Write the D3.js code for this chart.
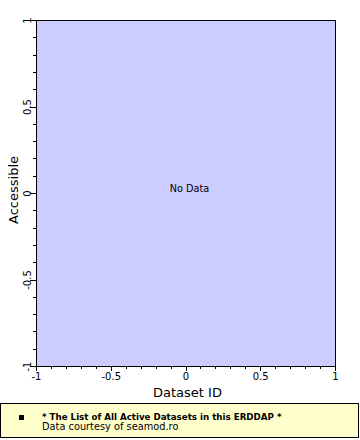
<!DOCTYPE html>
<html>
<head>
<meta charset="utf-8">
<script src="https://cdn.jsdelivr.net/npm/d3@7"></script>
<style>
  html, body { margin: 0; padding: 0; background: #fff; }
  svg { display: block; }
</style>
</head>
<body>
<div id="chart"></div>
<script>
// Axis domains and tick labels
const xDomain = [-1, 1];
const yDomain = [-1, 1];
const xTicks = [-1, -0.5, 0, 0.5, 1];
const yTicks = [-1, -0.5, 0, 0.5, 1];
const xTitle = "Dataset ID";
const yTitle = "Accessible";
const noDataText = "No Data";
const legendTitle = "* The List of All Active Datasets in this ERDDAP *";
const legendCredit = "Data courtesy of seamod.ro";

const W = 360, H = 440;
const plot = { left: 36, top: 20, right: 335, bottom: 366 };
const font = "'DejaVu Sans', sans-serif";

const svg = d3.select("#chart").append("svg")
    .attr("width", W)
    .attr("height", H);

const x = d3.scaleLinear().domain(xDomain).range([plot.left, plot.right]);
const y = d3.scaleLinear().domain(yDomain).range([plot.bottom, plot.top]);
const fmt = d => String(d);

// plot background
svg.append("rect")
    .attr("x", plot.left)
    .attr("y", plot.top)
    .attr("width", plot.right - plot.left)
    .attr("height", plot.bottom - plot.top)
    .attr("fill", "#ccccff")
    .attr("stroke", "#000")
    .attr("stroke-width", 1)
    .attr("shape-rendering", "crispEdges");

// minor ticks
const minorX = x.ticks(20).filter(v => !xTicks.includes(v));
const minorY = y.ticks(20).filter(v => !yTicks.includes(v));

const xAxisMinor = svg.append("g")
    .attr("transform", `translate(0,${plot.bottom})`)
    .call(d3.axisBottom(x).tickValues(minorX).tickSize(3).tickFormat(""));
const yAxisMinor = svg.append("g")
    .attr("transform", `translate(${plot.left},0)`)
    .call(d3.axisLeft(y).tickValues(minorY).tickSize(3).tickFormat(""));

// major ticks
const xAxis = svg.append("g")
    .attr("transform", `translate(0,${plot.bottom})`)
    .call(d3.axisBottom(x).tickValues(xTicks).tickSize(5).tickPadding(2).tickFormat(fmt));
const yAxis = svg.append("g")
    .attr("transform", `translate(${plot.left},0)`)
    .call(d3.axisLeft(y).tickValues(yTicks).tickSize(6).tickFormat(fmt));

[xAxisMinor, yAxisMinor, xAxis, yAxis].forEach(g => {
    g.select(".domain").remove();
    g.selectAll("line").attr("stroke", "#000").attr("shape-rendering", "crispEdges");
});

xAxis.selectAll("text")
    .attr("font-family", font)
    .attr("font-size", 10)
    .attr("fill", "#000");

// rotated y tick labels
yAxis.selectAll("text")
    .attr("font-family", font)
    .attr("font-size", 10)
    .attr("fill", "#000")
    .attr("x", null)
    .attr("dy", null)
    .attr("text-anchor", "middle")
    .attr("transform", "translate(-5,0) rotate(-90)");

// axis titles
svg.append("text")
    .attr("x", (plot.left + plot.right) / 2 + 2)
    .attr("y", 397)
    .attr("text-anchor", "middle")
    .attr("font-family", font)
    .attr("font-size", 13)
    .text(xTitle);

svg.append("text")
    .attr("transform", `translate(18,${(plot.top + plot.bottom) / 2 - 3}) rotate(-90)`)
    .attr("text-anchor", "middle")
    .attr("font-family", font)
    .attr("font-size", 13)
    .text(yTitle);

// no data message
svg.append("text")
    .attr("x", x(0) + 4)
    .attr("y", y(0) - 1)
    .attr("text-anchor", "middle")
    .attr("font-family", font)
    .attr("font-size", 9.7)
    .attr("fill", "#000")
    .text(noDataText);

// legend box
const legend = svg.append("g");
legend.append("rect")
    .attr("x", 0.5)
    .attr("y", 403.5)
    .attr("width", 358)
    .attr("height", 34)
    .attr("fill", "#ffffcc")
    .attr("stroke", "#000")
    .attr("shape-rendering", "crispEdges");
legend.append("rect")
    .attr("x", 19)
    .attr("y", 415)
    .attr("width", 5)
    .attr("height", 5)
    .attr("fill", "#000");
legend.append("text")
    .attr("x", 42)
    .attr("y", 420)
    .attr("font-family", font)
    .attr("font-size", 8.7)
    .attr("font-weight", "bold")
    .text(legendTitle);
legend.append("text")
    .attr("x", 42)
    .attr("y", 430)
    .attr("font-family", font)
    .attr("font-size", 9.8)
    .text(legendCredit);
</script>
</body>
</html>
